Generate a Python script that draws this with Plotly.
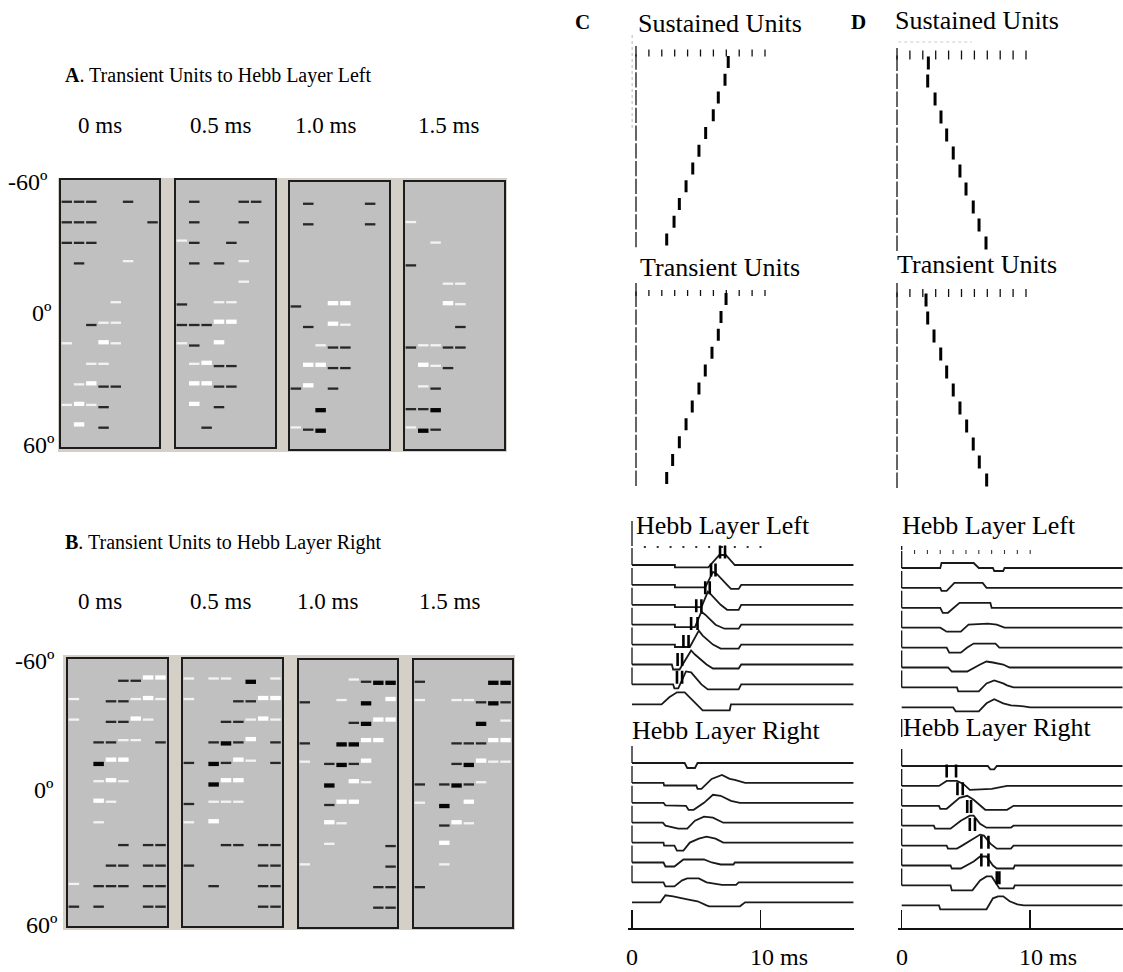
import plotly.graph_objects as go

W, H = 1123, 972
SERIF = "Liberation Serif, Times New Roman, serif"

# ---------------- Panels A / B : 12 rows (-60º..60º) x 8 columns per box ----------------
# '.' none, 'b' thin black, 'B' thick black, 'w' thin white, 'W' thick white
TIME_LABELS = ["0 ms", "0.5 ms", "1.0 ms", "1.5 ms"]
ANGLE_LABELS = ["-60º", "0º", "60º"]

A_0MS = ["bbb..b..", "bbb....b", "bbb.....", ".b...w..", "........", "....w...",
         "..bww...", "w..Ww...", "..ww....", ".wWbb...", "wWwb....", ".W.b...."]
A_05MS = [".b...bb.", ".b...b..", "wb..b...", ".b.b.w..", ".....w..", "b..ww...",
          "bbbWW...", "wb.W....", ".wWbb...", ".WWbb...", ".W.b....", "..b....."]
A_10MS = [".b....b.", ".b....b.", "........", "........", "........", "b..WW...",
          ".b.Ww...", "..wbb...", ".WWbb...", "bW.b....", "..B.....", "wbB....."]
A_15MS = ["........", "w.......", "..w.....", "b.......", "...ww...", "...Ww...",
          "....b...", "bwwbb...", ".Wwb....", ".wb.....", "bbB.....", "wBb....."]
B_0MS = ["....bbWW", "w..bbwWw", "w..bbWw.", "..bbww.b", "..BWW...", "..wWw...",
         "..Ww....", "..w.....", "....b.bb", "...bb.bb", "w.bbb.bb", "b.b...bb"]
B_05MS = ["w.ww.B.w", "w...bbWW", "...bbwWw", "..bBbW.b", "b.BbWw.b", "..BWW...",
          "b.www...", "w.W.....", "...bb.bb", "b.....bb", "..b...bb", "......bb"]
B_10MS = ["....wbBB", "b..w.B.W", "....bBWW", "b..BBWW.", "w.bBbW..", "..B.Ww..",
          "..bWW...", "..Ww....", "..w....b", "w......b", "......bb", "......bb"]
B_15MS = ["b.....BB", "w..wwbBb", ".....B.w", "...bbbWW", "...bBWww", "b.bBbw..",
          "w.B.W...", "..bWw...", "..W.....", "..w.....", "b.......", "........"]

# ---------------- Panels C / D : spike rasters (ms) ----------------
TICK_MS = [0, 1, 2, 3, 4, 5, 6, 7, 8, 9, 10]
DOT_MS = [1, 2, 3, 4, 5, 6, 7, 8, 9, 10]
C_SUST_SPIKES = [7.15, 6.9, 6.38, 5.99, 5.40, 4.88, 4.40, 3.88, 3.36, 2.95, 2.38]
C_TRANS_SPIKES = [6.98, 6.59, 6.38, 5.89, 5.37, 4.88, 4.36, 3.88, 3.36, 2.84, 2.38]
D_SUST_SPIKES = [2.43, 2.38, 2.95, 3.41, 3.85, 4.36, 4.88, 5.35, 5.91, 6.36, 6.90]
D_TRANS_SPIKES = [2.25, 2.38, 2.87, 3.39, 3.85, 4.36, 4.88, 5.40, 5.91, 6.38, 6.95]

# Hebb layer spike pairs (ms)
C_HL_SPIKES = [(6.85, 7.24), (6.15, 6.5), (5.7, 6.05), (5.0, 5.4), (4.6, 5.1), (4.0, 4.4), (3.55, 3.9), (3.5, 3.9)]
D_HR_SPIKES = [(3.5, 4.23), (4.34, 4.75), (5.1, 5.4), (5.3, 5.7), (6.2, 6.75), (6.2, 6.75), (7.4, 7.6)]

# Hebb layer potentials: time (ms) / value (relative, + = up)
C_HL_T = [[0, 3.34, 3.34, 5.94, 6.8, 7.3, 8.0, 17.25],
          [0, 3.34, 3.34, 5.7, 6.3, 6.6, 7.4, 7.7, 8.3, 8.5, 17.25],
          [0, 3.34, 3.34, 5.4, 5.9, 6.1, 6.9, 7.4, 8.3, 8.5, 17.25],
          [0, 3.34, 3.34, 4.9, 5.4, 5.7, 6.5, 7.2, 8.3, 8.5, 17.25],
          [0, 3.34, 3.34, 4.5, 5.2, 5.5, 6.3, 6.9, 8.3, 8.5, 17.25],
          [0, 3.1, 3.2, 3.7, 4.6, 4.9, 5.8, 6.3, 8.3, 8.5, 17.25],
          [0, 3.2, 3.3, 3.6, 4.2, 4.6, 5.4, 5.9, 8.3, 8.5, 17.25],
          [0, 2.3, 2.9, 3.5, 4.1, 5.0, 5.5, 7.6, 7.7, 17.25]]
C_HL_V = [[0, 0, -0.12, -0.12, 0.5, 0.5, 0, 0],
          [0, 0, -0.12, -0.12, 0.65, 0.55, 0, -0.2, -0.2, 0, 0],
          [0, 0, -0.12, -0.12, 0.65, 0.55, 0, -0.25, -0.25, 0, 0],
          [0, 0, -0.12, -0.12, 0.65, 0.5, 0, -0.2, -0.2, 0, 0],
          [0, 0, -0.12, -0.12, 0.7, 0.45, 0, -0.2, -0.2, 0, 0],
          [0, 0, -0.25, -0.25, 0.7, 0.5, 0, -0.2, -0.2, 0, 0],
          [0, 0, -0.2, -0.2, 0.65, 0.6, 0, -0.25, -0.25, 0, 0],
          [0, 0, 0.35, 0.6, 0.6, 0.05, -0.3, -0.3, 0, 0]]
C_HR_T = [[0, 4.1, 4.3, 4.9, 5.1, 17.25],
          [0, 2.45, 2.5, 5.0, 5.1, 5.4, 6.2, 7.0, 7.6, 8.0, 8.8, 17.25],
          [0, 2.45, 2.6, 4.2, 4.4, 4.8, 5.6, 6.3, 6.9, 7.7, 8.4, 17.25],
          [0, 2.4, 2.6, 3.6, 4.3, 4.9, 5.6, 6.3, 7.1, 17.25],
          [0, 2.45, 2.5, 3.3, 3.5, 4.0, 4.5, 5.2, 5.8, 6.5, 7.1, 17.25],
          [0, 2.45, 2.6, 3.3, 4.0, 5.6, 6.2, 6.9, 7.9, 8.0, 17.25],
          [0, 2.45, 2.6, 3.3, 3.9, 4.3, 5.2, 5.8, 7.0, 8.1, 8.3, 17.25],
          [0, 2.2, 2.6, 3.2, 4.3, 5.1, 5.8, 6.0, 8.4, 8.8, 17.25]]
C_HR_V = [[0, 0, -0.25, -0.25, 0, 0],
          [0, 0, -0.13, -0.13, -0.3, -0.3, 0.2, 0.4, 0.2, 0.15, 0, 0],
          [0, 0, -0.13, -0.15, -0.35, -0.35, 0, 0.4, 0.35, 0.1, 0, 0],
          [0, 0, -0.15, -0.3, -0.3, 0.1, 0.3, 0.25, 0, 0],
          [0, 0, -0.15, -0.15, -0.4, -0.4, 0, 0.2, 0.3, 0.2, 0, 0],
          [0, 0, -0.2, -0.2, 0.15, 0.15, 0, -0.1, -0.1, 0, 0],
          [0, 0, -0.2, -0.2, 0.1, 0.2, 0.2, 0, -0.12, -0.12, 0, 0],
          [0, 0, 0.35, 0.3, 0.15, 0.05, -0.15, -0.2, -0.2, 0, 0]]
D_HL_T = [[0, 3.0, 3.1, 5.6, 6.0, 7.1, 7.2, 7.9, 8.0, 17.2],
          [0, 3.0, 3.1, 3.5, 4.1, 6.3, 6.6, 17.2],
          [0, 3.0, 3.2, 3.6, 4.5, 6.9, 7.0, 17.2],
          [0, 3.0, 3.5, 4.6, 5.2, 6.7, 7.4, 8.0, 17.2],
          [0, 3.5, 3.7, 4.6, 5.1, 5.6, 7.3, 7.6, 17.2],
          [0, 3.6, 3.9, 5.1, 6.1, 6.6, 7.1, 7.9, 8.4, 17.2],
          [0, 4.3, 4.4, 6.0, 6.6, 7.2, 7.9, 8.2, 8.7, 17.2],
          [0, 4.0, 4.2, 6.0, 6.6, 7.2, 7.9, 8.5, 9.5, 10.0, 17.2]]
D_HL_V = [[0, 0, 0.25, 0.25, 0, 0, -0.15, -0.15, 0, 0],
          [0, 0, -0.15, -0.15, 0.25, 0.25, 0, 0],
          [0, 0, -0.25, -0.25, 0.25, 0.25, 0, 0],
          [0, 0, -0.2, -0.2, 0.15, 0.2, 0.15, 0, 0],
          [0, 0, -0.25, -0.25, 0, 0.2, 0.2, 0, 0],
          [0, 0, -0.2, -0.2, 0.15, 0.3, 0.25, 0.15, 0, 0],
          [0, 0, -0.2, -0.2, 0.2, 0.35, 0.2, 0.1, 0, 0],
          [0, 0, -0.2, -0.2, 0.2, 0.4, 0.2, 0.1, 0.05, 0, 0]]
D_HR_T = [[0, 6.7, 6.9, 7.2, 7.4, 17.2],
          [0, 2.9, 3.5, 4.3, 4.8, 5.3, 7.0, 8.2, 17.2],
          [0, 2.9, 3.0, 3.5, 4.5, 5.1, 5.6, 6.1, 6.5, 8.2, 8.7, 17.2],
          [0, 2.5, 2.6, 3.8, 4.6, 5.3, 5.6, 6.1, 6.6, 8.5, 8.7, 17.2],
          [0, 3.5, 3.6, 4.3, 4.7, 5.6, 6.1, 6.4, 6.9, 7.4, 8.5, 8.7, 17.2],
          [0, 3.8, 3.9, 4.6, 5.6, 6.1, 6.6, 7.1, 7.4, 8.7, 8.8, 17.2],
          [0, 3.8, 3.9, 5.5, 6.1, 6.6, 7.0, 7.4, 7.6, 8.7, 8.8, 17.2],
          [0, 2.9, 3.0, 6.6, 7.1, 7.5, 7.9, 8.4, 9.0, 9.5, 17.2]]
D_HR_V = [[0, 0, -0.17, -0.17, 0, 0],
          [0, 0, 0.25, 0.25, 0.1, -0.2, -0.15, 0, 0],
          [0, 0, -0.15, -0.15, 0.4, 0.5, 0.3, 0, -0.2, -0.2, 0, 0],
          [0, 0, -0.15, -0.15, 0.25, 0.5, 0.5, 0.1, -0.1, -0.1, 0, 0],
          [0, 0, -0.15, -0.15, 0, 0.35, 0.55, 0.5, 0.1, -0.15, -0.15, 0, 0],
          [0, 0, -0.15, -0.15, 0.2, 0.45, 0.45, 0, -0.15, -0.15, 0, 0],
          [0, 0, -0.25, -0.25, 0.25, 0.45, 0.45, 0, -0.15, -0.15, 0, 0],
          [0, 0, -0.2, -0.2, 0.35, 0.45, 0.45, 0.2, 0.05, 0, 0]]
AXIS_TICKS = [0, 10]

# ======================================================================
fig = go.Figure()
axes_layout = {}
shapes = []
annotations = []
counter = [0]


def new_axes(x0, x1, y0, y1, xr, yr, boxed=False, bottom_axis=False):
    counter[0] += 1
    n = counter[0]
    s = "" if n == 1 else str(n)
    common = dict(showgrid=False, zeroline=False, showticklabels=False, ticks="", fixedrange=True)
    xa = dict(domain=[x0 / W, x1 / W], range=xr, anchor="y" + s, **common)
    ya = dict(domain=[1 - y1 / H, 1 - y0 / H], range=yr, anchor="x" + s, **common)
    if boxed:
        for a in (xa, ya):
            a.update(showline=True, mirror=True, linecolor="#1c1c1c", linewidth=2)
    elif bottom_axis:
        xa.update(showline=True, linecolor="#111", linewidth=1.6, ticks="inside", ticklen=18,
                  tickwidth=1.6, tickcolor="#111", tickvals=AXIS_TICKS)
        ya.update(visible=False)
    else:
        xa.update(visible=False)
        ya.update(visible=False)
    axes_layout["xaxis" + s] = xa
    axes_layout["yaxis" + s] = ya
    return "x" + s, "y" + s


def add_segs(xr, yr, segs, width, color, dash=None):
    xs, ys = [], []
    for (xa, ya), (xb, yb) in segs:
        xs += [xa, xb, None]
        ys += [ya, yb, None]
    ln = dict(color=color, width=width)
    if dash:
        ln["dash"] = dash
    fig.add_trace(go.Scatter(x=xs, y=ys, xaxis=xr, yaxis=yr, mode="lines",
                             line=ln, hoverinfo="skip", showlegend=False))


def text(t, x, y, size, xanchor="left", color="#000"):
    annotations.append(dict(text=t, x=x / W, y=1 - y / H, xref="paper", yref="paper",
                            xanchor=xanchor, yanchor="middle", showarrow=False,
                            font=dict(family=SERIF, size=size, color=color)))


# ---------------- A / B boxes ----------------
STYLE = {"b": (2.3, "#272727", 0.06), "B": (4.3, "#050505", 0.11),
         "w": (2.3, "#f3f3f3", -0.05), "W": (4.3, "#ffffff", -0.10)}


def raster_box(rows, box):
    x0, x1, y0, y1 = box
    xr, yr = new_axes(x0, x1, y0, y1, [0, 8], [13, 0], boxed=True)
    shapes.append(dict(type="rect", xref=xr + " domain", yref=yr + " domain", x0=0, x1=1, y0=0, y1=1,
                       fillcolor="#c0c0c0", line=dict(width=0), layer="below"))
    for code, (wd, col, off) in STYLE.items():
        segs = []
        for r, row in enumerate(rows, start=1):
            for c, ch in enumerate(row):
                if ch == code:
                    segs.append(((c + 0.05, r + off), (c + 0.9, r + off)))
        if segs:
            add_segs(xr, yr, segs, wd, col)


shapes.append(dict(type="rect", xref="paper", yref="paper", x0=58 / W, x1=507 / W, y0=1 - 452 / H, y1=1 - 178 / H,
                   fillcolor="#d4d0c8", line=dict(width=0), layer="below"))
shapes.append(dict(type="rect", xref="paper", yref="paper", x0=63 / W, x1=515 / W, y0=1 - 930 / H, y1=1 - 655 / H,
                   fillcolor="#d4d0c8", line=dict(width=0), layer="below"))

A_BOXES = [(61, 159, 180, 447), (176, 275, 180, 447), (290, 389, 182, 449), (405, 504, 182, 449)]
B_BOXES = [(68, 167, 659, 926), (183, 282, 659, 926), (299, 397, 660, 927), (414, 512, 660, 927)]
for rows, box in zip([A_0MS, A_05MS, A_10MS, A_15MS], A_BOXES):
    raster_box(rows, box)
for rows, box in zip([B_0MS, B_05MS, B_10MS, B_15MS], B_BOXES):
    raster_box(rows, box)

text("<b>A</b>. Transient Units to Hebb Layer Left", 63, 75, 20)
text("<b>B</b>. Transient Units to Hebb Layer Right", 63, 542, 20)
for lab, xc in zip(TIME_LABELS, [100, 220, 325, 448]):
    text(lab, xc, 125, 23, "center")
for lab, xc in zip(TIME_LABELS, [100, 220, 327, 449]):
    text(lab, xc, 601, 23, "center")
for lab, (xr_, yc) in zip(ANGLE_LABELS, [(50, 182), (54, 313), (57, 445)]):
    text(lab, xr_, yc, 24, "right")
for lab, (xr_, yc) in zip(ANGLE_LABELS, [(57, 661), (56, 790), (60, 925)]):
    text(lab, xr_, yc, 24, "right")

# ---------------- C / D rasters ----------------
LW_THIN = 1.3
INK = "#111111"


def spike_raster(zero, scale, y_top, y_bot, spikes, tick_y, tick_len, first_top, row0, dy, half,
                 faint_v=None, faint_h=None):
    xmin, xmax = -0.6, 11.0
    xr, yr = new_axes(zero + xmin * scale, zero + xmax * scale, y_top, y_bot, [xmin, xmax], [y_bot, y_top])
    if faint_v:
        t0, ya, yb = faint_v
        add_segs(xr, yr, [((t0, ya), (t0, yb))], 1.0, "#b8b8b8", dash="dot")
    if faint_h:
        ta, tb, yh = faint_h
        add_segs(xr, yr, [((ta, yh), (tb, yh))], 1.0, "#c8c8c8", dash="dot")
    ticks = [((TICK_MS[0], first_top), (TICK_MS[0], tick_y + tick_len / 2))]
    ticks += [((t, tick_y - tick_len / 2), (t, tick_y + tick_len / 2)) for t in TICK_MS[1:]]
    zeros = [((0, row0 + i * dy - dy / 2 + 1.5), (0, row0 + i * dy + dy / 2 - 1.0)) for i in range(len(spikes))]
    add_segs(xr, yr, ticks + zeros, LW_THIN, INK)
    sp = [((t, row0 + i * dy - half), (t, row0 + i * dy + half)) for i, t in enumerate(spikes)]
    add_segs(xr, yr, sp, 3.0, "#000")


spike_raster(636, 12.9, 30, 262, C_SUST_SPIKES, 53, 7, 46, 62, 17.75, 6, faint_v=(-0.3, 35, 128))
spike_raster(636, 12.9, 278, 500, C_TRANS_SPIKES, 293, 6, 283, 299, 17.9, 6)
spike_raster(897, 12.9, 30, 262, D_SUST_SPIKES, 55, 9, 48, 63, 18.0, 6.5, faint_h=(0.1, 5.8, 42))
spike_raster(897, 12.9, 278, 500, D_TRANS_SPIKES, 293, 8, 283, 300, 18.0, 6.5)


def hebb(zero, scale, xmax, y_top, y_bot, T, V, base0, dtr, n_zero_ticks, extra_zero,
         spikes=None, sp0=None, spdy=None, dots=None, dot_y=None, dot_len=0, bottom=False):
    xmin = -0.3
    xr, yr = new_axes(zero + xmin * scale, zero + xmax * scale, y_top, y_bot, [xmin, xmax], [y_bot, y_top],
                      bottom_axis=bottom)
    amp = 20.0
    xs, ys = [], []
    for i, (tt, vv) in enumerate(zip(T, V)):
        base = base0 + i * dtr
        xs += list(tt) + [None]
        ys += [base - v * amp for v in vv] + [None]
    fig.add_trace(go.Scatter(x=xs, y=ys, xaxis=xr, yaxis=yr, mode="lines",
                             line=dict(color="#1a1a1a", width=1.8), hoverinfo="skip", showlegend=False))
    zs = [((0, base0 + i * dtr - 17), (0, base0 + i * dtr)) for i in range(n_zero_ticks)]
    zs += [((0, a), (0, b)) for a, b in extra_zero]
    add_segs(xr, yr, zs, LW_THIN, INK)
    if dots:
        if dot_len:
            add_segs(xr, yr, [((t, dot_y - dot_len / 2), (t, dot_y + dot_len / 2)) for t in dots], 1.1, "#333")
        else:
            fig.add_trace(go.Scatter(x=dots, y=[dot_y] * len(dots), xaxis=xr, yaxis=yr, mode="markers",
                                     marker=dict(symbol="square", size=2, color="#333"),
                                     hoverinfo="skip", showlegend=False))
    if spikes:
        segs = []
        for i, pair in enumerate(spikes):
            yc = sp0 + i * spdy
            for t in pair:
                segs.append(((t, yc - 6.5), (t, yc + 6.5)))
        add_segs(xr, yr, segs, 2.6, "#000")
    return xr


hebb(632, 12.85, 17.25, 512, 716, C_HL_T, C_HL_V, 565, 19.9, 7, [(521, 546)],
     spikes=C_HL_SPIKES, sp0=552, spdy=17.9, dots=DOT_MS, dot_y=547)
hebb(632, 12.85, 17.25, 736, 928, C_HR_T, C_HR_V, 763, 19.9, 7, [], bottom=True)
hebb(901.7, 12.85, 17.2, 538, 716, D_HL_T, D_HL_V, 568, 19.9, 7, [(546, 550)],
     dots=DOT_MS, dot_y=552, dot_len=4)
hebb(901.7, 12.85, 17.2, 712, 928, D_HR_T, D_HR_V, 766, 19.9, 7, [(719, 737)],
     spikes=D_HR_SPIKES, sp0=771, spdy=17.8, bottom=True)

# ---------------- C / D texts ----------------
text("<b>C</b>", 582, 22, 21, "center")
text("<b>D</b>", 858, 22, 21, "center")
text("Sustained Units", 636, 23, 26)
text("Sustained Units", 893, 20, 26)
text("Transient Units", 638, 268, 26)
text("Transient Units", 895, 265, 26)
text("Hebb Layer Left", 634, 525, 26)
text("Hebb Layer Left", 900, 525, 26)
text("Hebb Layer Right", 630, 730, 26)
text("Hebb Layer Right", 901, 727, 26)
for zero in (632, 901.7):
    text("0", zero, 957, 24, "center")
    text("10 ms", zero + 10 * 12.85 - 13, 957, 24, "left")

fig.update_layout(width=W, height=H, margin=dict(l=0, r=0, t=0, b=0),
                  paper_bgcolor="white", plot_bgcolor="rgba(0,0,0,0)",
                  showlegend=False, shapes=shapes, annotations=annotations, **axes_layout)

fig.write_html("out.html", config={"displayModeBar": False, "staticPlot": True},
               post_script="document.body.style.margin='0';document.body.style.overflow='hidden';")
